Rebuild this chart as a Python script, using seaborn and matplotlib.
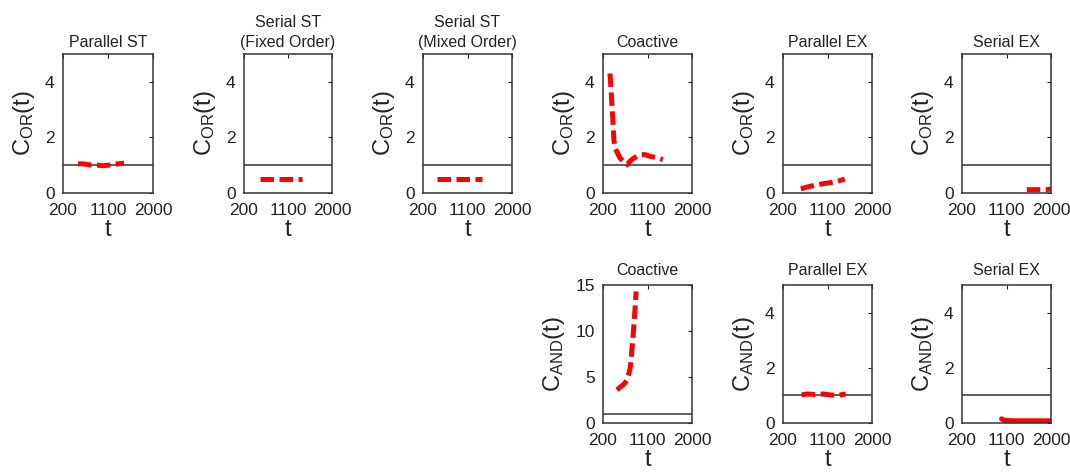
import matplotlib
matplotlib.use('Agg')
import matplotlib.pyplot as plt
import seaborn as sns

# --- data (t vs. capacity) ---
t_par_st = [500, 600, 700, 800, 900, 1000, 1100, 1200, 1300, 1420]
c_par_st = [1.05, 1.05, 1.02, 1.0, 1.0, 0.98, 1.0, 1.02, 1.05, 1.07]

t_ser_fixed = [530, 800, 1100, 1390]
c_ser_fixed = [0.5, 0.5, 0.5, 0.5]

t_ser_mixed = [480, 800, 1100, 1390]
c_ser_mixed = [0.5, 0.5, 0.5, 0.5]

t_coact_or = [340, 360, 380, 400, 420, 450, 490, 540, 600, 650, 690, 750,
              820, 890, 960, 1050, 1150, 1250, 1330, 1410]
c_coact_or = [4.3, 3.8, 3.2, 2.6, 1.9, 1.6, 1.45, 1.27, 1.15, 1.05, 1.02, 1.15,
              1.25, 1.32, 1.38, 1.38, 1.32, 1.28, 1.25, 1.2]

t_par_ex_or = [560, 700, 850, 1000, 1150, 1300, 1450]
c_par_ex_or = [0.15, 0.22, 0.28, 0.33, 0.37, 0.42, 0.5]

t_ser_ex_or = [1510, 1600, 1700, 1800, 1900, 2000]
c_ser_ex_or = [0.12, 0.12, 0.12, 0.12, 0.12, 0.14]

t_coact_and = [480, 550, 620, 680, 720, 750, 770, 790, 810, 830, 850, 870]
c_coact_and = [3.6, 3.9, 4.2, 4.6, 5.3, 6.0, 7.0, 8.3, 9.6, 11.0, 12.6, 14.3]

t_par_ex_and = [580, 700, 850, 1000, 1150, 1300, 1470]
c_par_ex_and = [1.02, 1.05, 1.03, 1.05, 1.02, 1.0, 1.05]

t_ser_ex_and = [1000, 1050, 1200, 1400, 1600, 1800, 2000]
c_ser_ex_and = [0.15, 0.1, 0.08, 0.08, 0.08, 0.08, 0.08]

x_ticks = [200, 1100, 2000]

W, H = 1070, 473
sns.set_theme(style="white")
plt.rcParams['font.family'] = ['Liberation Sans', 'DejaVu Sans']
plt.rcParams['mathtext.fontset'] = 'custom'
plt.rcParams['mathtext.rm'] = 'Liberation Sans'
plt.rcParams['mathtext.it'] = 'Liberation Sans'

fig = plt.figure(figsize=(W / 100, H / 100), dpi=100)

col_x = [(63, 153), (244, 332), (423, 512), (603, 692), (783, 872), (962, 1051)]
rows = {0: (54, 193), 1: (285, 423)}

# (row, col, title, t, c, ylabel, ymax, yticks, solid)
panels = [
    (0, 0, 'Parallel ST', t_par_st, c_par_st, 'OR', 5, [0, 2, 4], False),
    (0, 1, 'Serial ST\n(Fixed Order)', t_ser_fixed, c_ser_fixed, 'OR', 5, [0, 2, 4], False),
    (0, 2, 'Serial ST\n(Mixed Order)', t_ser_mixed, c_ser_mixed, 'OR', 5, [0, 2, 4], False),
    (0, 3, 'Coactive', t_coact_or, c_coact_or, 'OR', 5, [0, 2, 4], False),
    (0, 4, 'Parallel EX', t_par_ex_or, c_par_ex_or, 'OR', 5, [0, 2, 4], False),
    (0, 5, 'Serial EX', t_ser_ex_or, c_ser_ex_or, 'OR', 5, [0, 2, 4], False),
    (1, 3, 'Coactive', t_coact_and, c_coact_and, 'AND', 15, [0, 5, 10, 15], False),
    (1, 4, 'Parallel EX', t_par_ex_and, c_par_ex_and, 'AND', 5, [0, 2, 4], False),
    (1, 5, 'Serial EX', t_ser_ex_and, c_ser_ex_and, 'AND', 5, [0, 2, 4], True),
]

for row, col, title, t, c, sub, ymax, yt, solid in panels:
    x0, x1 = col_x[col]
    top, bot = rows[row]
    ax = fig.add_axes([x0 / W, 1 - bot / H, (x1 - x0) / W, (bot - top) / H])
    ax.axhline(1, color='#333333', lw=1.1, zorder=1)
    sns.lineplot(x=t, y=c, ax=ax, color='red', lw=3.6, zorder=2)
    line = ax.lines[-1]
    if not solid:
        line.set_dashes((2.7, 1.1))
    ax.set_xlim(200, 2000)
    ax.set_ylim(0, ymax)
    ax.set_xticks(x_ticks)
    ax.set_yticks(yt)
    ax.tick_params(direction='in', top=True, right=True, length=3, width=0.8,
                   labelsize=12.5, colors='#222222')
    ax.tick_params(axis='x', pad=7)
    ax.tick_params(axis='y', pad=6)
    for s in ax.spines.values():
        s.set_color('#333333')
        s.set_linewidth(1.1)
    ax.set_title(title, fontsize=11.5, color='#222222',
                 pad=5 if row == 0 else 7, linespacing=1.4)
    ax.set_xlabel('t', fontsize=17, color='#222222', labelpad=1)
    ax.set_ylabel(r'$\mathregular{C_{%s}(t)}$' % sub, fontsize=17,
                  color='#222222', labelpad=6)

fig.savefig('out.png', dpi=100)
